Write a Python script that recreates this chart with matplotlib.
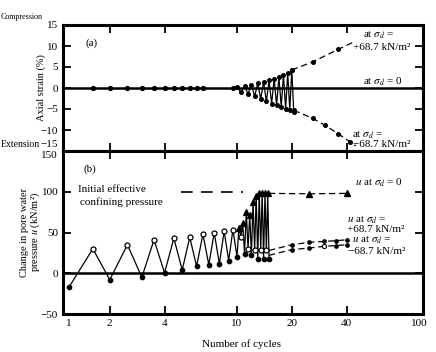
import numpy as np
import matplotlib
matplotlib.use("Agg")
import matplotlib.pyplot as plt
from matplotlib.ticker import FixedLocator, FixedFormatter

plt.rcParams['font.family'] = ['Liberation Serif', 'DejaVu Serif']
plt.rcParams['mathtext.fontset'] = 'stix'

# ---------------- data ----------------
x_major = [2, 4, 10, 20, 40]
x_major_labels = ['2', '4', '10', '20', '40']
x_end = [1, 100]
x_end_labels = ['1', '100']

a_yticks = [-15, -10, -5, 0, 5, 10, 15]
a_ylabels = ['', '\u221210', '\u22125', '0', '5', '10', '15']
b_yticks = [-50, 0, 50, 100, 150]
b_ylabels = ['\u221250', '0', '50', '100', '']
shared_edge_labels = ['\u221215', '150']

# (a) axial strain: early half-cycles with zero strain
a_flat_N = [1.5, 2, 2.5, 3, 3.5, 4, 4.5, 5, 5.5, 6, 6.5]
a_flat_s = [0, 0, 0, 0, 0, 0, 0, 0, 0, 0, 0]
# (a) growing cyclic strain
a_cyc_N = [9.5, 10, 10.5, 11, 11.5, 12, 12.5, 13, 13.5, 14, 14.5, 15, 15.5,
           16, 16.5, 17, 17.5, 18, 18.5, 19, 19.5, 20, 20.5]
a_cyc_s = [0, 0.2, -1.0, 0.4, -1.4, 0.8, -2.0, 1.1, -2.6, 1.5, -3.2, 1.8, -3.7,
           2.2, -4.1, 2.6, -4.5, 3.1, -4.9, 3.6, -5.2, 4.3, -5.6]
# (a) envelopes
a_up_N = [20, 26, 36, 44]
a_up_s = [4.3, 6.2, 9.2, 11.0]
a_lo_N = [20.5, 26, 30.5, 36, 42, 45]
a_lo_s = [-5.3, -7.2, -8.9, -10.9, -12.9, -13.8]

# (b) pore pressure, time ordered: N, u, kind (d = sigma_d -68.7, o = +68.7, t = 0)
b_N = [1, 1.5, 2, 2.5, 3, 3.5, 4, 4.5, 5, 5.5, 6, 6.5, 7, 7.5, 8, 8.5, 9, 9.5,
       10, 10.25, 10.5, 10.75, 11, 11.25, 11.5, 11.75, 12, 12.25, 12.5, 12.75,
       13, 13.25, 13.5, 13.75, 14, 14.25, 14.5, 14.75, 15]
b_u = [-17, 30, -8, 35, -5, 41, 0.5, 43, 4, 44, 8.6, 48, 10.5, 50, 11.5, 51.5, 15.6, 53.6,
       20, 56, 45, 62, 24, 75, 30, 72, 22, 88, 28, 95,
       18, 99, 28, 99, 18, 99, 28, 98, 18]
b_kind = ['d', 'o', 'd', 'o', 'd', 'o', 'd', 'o', 'd', 'o', 'd', 'o', 'd', 'o', 'd', 'o', 'd', 'o',
          'd', 't', 'o', 't', 'd', 't', 'o', 't', 'd', 't', 'o', 't',
          'd', 't', 'o', 't', 'd', 't', 'o', 't', 'd']
# (b) initial effective confining pressure reference
b_conf_N = [4.9, 10.8]
b_conf_u = [100, 100]
# (b) trends after liquefaction
b_zero_N = [15, 25, 40]
b_zero_u = [98, 97.5, 98]
b_plus_N = [15, 20, 25, 30, 35, 40]
b_plus_u = [28, 35, 38, 39, 40, 41]
b_minus_N = [15, 20, 25, 30, 35, 40]
b_minus_u = [22, 29, 31, 33, 34, 35]

# ---------------- figure ----------------
W, H = 436, 352
fig = plt.figure(figsize=(W / 100, H / 100), dpi=100)
axa = fig.add_axes([63 / W, 1 - 151 / H, 360 / W, 126 / H])
axb = fig.add_axes([63 / W, 1 - 314 / H, 360 / W, 163 / H])

L2 = np.log10(2.0)
K = 0.744


def fwd(x):
    lx = np.log10(np.clip(np.asarray(x, float), 1e-6, None))
    return np.where(lx >= L2, lx, L2 + (lx - L2) * K)


def inv(f):
    f = np.asarray(f, float)
    return np.where(f >= L2, 10 ** f, 10 ** (L2 + (f - L2) / K))


for ax in (axa, axb):
    ax.set_xscale('function', functions=(fwd, inv))
    ax.set_xlim(float(inv(0.044)), float(inv(2.022)))
    for sp in ax.spines.values():
        sp.set_linewidth(2.2)
    ax.xaxis.set_major_locator(FixedLocator(x_major))
    ax.tick_params(which='major', direction='in', top=True, right=True,
                   length=6, width=1.3, labelsize=8, pad=3.5)
    ax.tick_params(which='minor', length=0, labelsize=8, pad=3.5)
    ax.axhline(0, color='k', lw=1.8, zorder=2)

axa.xaxis.set_minor_locator(FixedLocator([]))
axa.xaxis.set_major_formatter(FixedFormatter([''] * len(x_major)))
axb.xaxis.set_major_formatter(FixedFormatter(x_major_labels))
axb.xaxis.set_minor_locator(FixedLocator(x_end))
axb.xaxis.set_minor_formatter(FixedFormatter(x_end_labels))

axa.set_ylim(-15, 15)
axa.yaxis.set_major_locator(FixedLocator(a_yticks))
axa.yaxis.set_major_formatter(FixedFormatter(a_ylabels))
axb.set_ylim(-50, 150)
axb.yaxis.set_major_locator(FixedLocator(b_yticks))
axb.yaxis.set_major_formatter(FixedFormatter(b_ylabels))

dash = (0, (5, 3))
# panel (a)
axa.plot(a_flat_N, a_flat_s, 'o', color='k', ms=2.8, zorder=3)
axa.plot(a_cyc_N, a_cyc_s, '-o', color='k', lw=0.9, ms=2.6, zorder=3)
axa.plot(a_up_N, a_up_s, color='k', lw=0.9, ls=dash, marker='o', ms=2.6,
         markevery=list(range(len(a_up_N) - 1)))
axa.plot(a_lo_N, a_lo_s, color='k', lw=0.9, ls=dash, marker='o', ms=2.6,
         markevery=list(range(len(a_lo_N) - 1)))

# panel (b)
axb.plot(b_N, b_u, '-', color='k', lw=0.9, zorder=3)
style = {'d': dict(marker='o', mfc='k', ms=3.2),
         'o': dict(marker='o', mfc='white', ms=3.6),
         't': dict(marker='^', mfc='k', ms=4.2)}
for kind, st in style.items():
    xs = [n for n, k in zip(b_N, b_kind) if k == kind]
    ys = [u for u, k in zip(b_u, b_kind) if k == kind]
    axb.plot(xs, ys, ls='none', mec='k', mew=0.9, zorder=4, **st)
axb.plot(b_conf_N, b_conf_u, color='k', lw=1.2, ls=(0, (7, 5)))
axb.plot(b_zero_N, b_zero_u, color='k', lw=0.9, ls=dash, marker='^', ms=4,
         markevery=[1, 2])
axb.plot(b_plus_N, b_plus_u, color='k', lw=0.9, ls=dash, marker='o', ms=2.4,
         markevery=[1, 2, 3, 4, 5])
axb.plot(b_minus_N, b_minus_u, color='k', lw=0.9, ls=dash, marker='o', ms=2.4,
         markevery=[1, 2, 4, 5])
axb.plot([b_minus_N[3]], [b_minus_u[3]], 'o', mfc='white', mec='k', ms=3, mew=0.8)


def ftxt(x, y, s, size=8, ha='left', **kw):
    fig.text(x / W, 1 - y / H, s, ha=ha, va='center', fontsize=size, **kw)


# tick labels at the shared edge of the two panels, nudged into their own panel
ftxt(58, 145, shared_edge_labels[0], size=8, ha='right')
ftxt(58, 156, shared_edge_labels[1], size=8, ha='right')

ftxt(1, 17, 'Compression', size=5.8, ha='left')
ftxt(40, 145, 'Extension', size=7, ha='right')
ftxt(41, 88, 'Axial strain (%)', size=7.5, ha='center', rotation=90)
ftxt(31, 232, 'Change in pore water\npressure $u$ (kN/m\u00b2)', size=7.5,
     ha='center', rotation=90, linespacing=1.0)
ftxt(241, 344, 'Number of cycles', size=8, ha='center')
ftxt(92, 43, '(a)', size=8, ha='center')
ftxt(90, 169, '(b)', size=8, ha='center')

ftxt(363, 35, 'at $\\sigma_d$ =', size=8)
ftxt(353, 47, '+68.7 kN/m\u00b2', size=8)
ftxt(363, 82, 'at $\\sigma_d$ = 0', size=8)
ftxt(352, 135, 'at $\\sigma_d$ =', size=8)
ftxt(353, 144, '\u221268.7 kN/m\u00b2', size=8)

ftxt(78, 190, 'Initial effective', size=8)
ftxt(80, 202, 'confining pressure', size=8)
ftxt(355, 183, '$u$ at $\\sigma_d$ = 0', size=8)
ftxt(347, 220, '$u$ at $\\sigma_d$ =', size=8)
ftxt(347, 229, '+68.7 kN/m\u00b2', size=8)
ftxt(352, 240, '$u$ at $\\sigma_d$ =', size=8)
ftxt(348, 252, '\u221268.7 kN/m\u00b2', size=8)

fig.savefig('out.png', dpi=100)
